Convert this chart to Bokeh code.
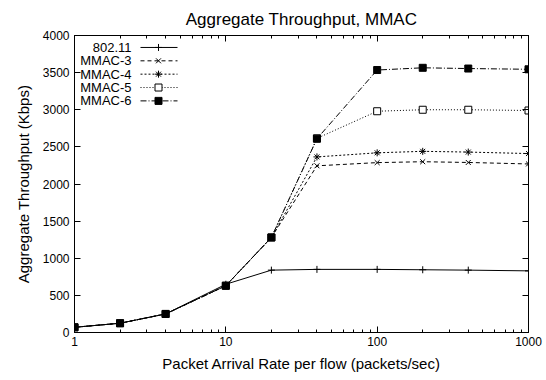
from bokeh.plotting import figure
from bokeh.models import (Range1d, LinearScale, LogAxis, LinearAxis, FixedTicker,
                          SingleIntervalTicker, ColumnDataSource, PrintfTickFormatter)
from bokeh.core.properties import value
from bokeh.embed import file_html
from bokeh.resources import INLINE

rate = [1, 2, 4, 10, 20, 40, 100, 200, 400, 1000]
thr_80211 = [70, 125, 250, 650, 840, 850, 850, 845, 840, 830]
thr_mmac3 = [70, 125, 250, 630, 1280, 2245, 2288, 2300, 2290, 2270]
thr_mmac4 = [70, 125, 250, 630, 1280, 2365, 2420, 2440, 2430, 2410]
thr_mmac5 = [70, 125, 250, 630, 1280, 2615, 2980, 3000, 3000, 2990]
thr_mmac6 = [70, 125, 250, 630, 1280, 2610, 3535, 3565, 3555, 3545]
names = ["802.11", "MMAC-3", "MMAC-4", "MMAC-5", "MMAC-6"]
series = [thr_80211, thr_mmac3, thr_mmac4, thr_mmac5, thr_mmac6]
x_ticks = [1, 10, 100, 1000]
x_minor = [m * d for d in (1, 10, 100) for m in range(2, 10)]

dashes = ["solid", "4 3", "2 2", "1 2", "6 2 1 2"]
markers = ["cross", "x", "asterisk", "square", "square"]
fills = ["black", "black", "black", "white", "black"]

FONT = "Liberation Sans"

p = figure(width=546, height=380, x_axis_type="log",
           x_range=Range1d(1, 1000), y_range=Range1d(0, 4000),
           output_backend="svg", toolbar_location=None,
           min_border_left=74, min_border_right=18, min_border_top=34, min_border_bottom=48,
           title="Aggregate Throughput, MMAC")
p.title.align = "center"
p.title.text_font = FONT
p.title.text_font_size = "17px"
p.title.text_font_style = "normal"
p.title.text_color = "black"
p.title.standoff = 14
p.grid.visible = False
p.outline_line_color = "black"
p.outline_line_width = 1
p.background_fill_color = "white"
p.border_fill_color = "white"

xa = p.xaxis[0]
xa.ticker = FixedTicker(ticks=x_ticks, minor_ticks=x_minor)
xa.formatter = PrintfTickFormatter(format="%d")
xa.axis_label = "Packet Arrival Rate per flow (packets/sec)"
ya = p.yaxis[0]
ya.ticker = SingleIntervalTicker(interval=500, num_minor_ticks=0)
ya.axis_label = "Aggregate Throughput (Kbps)"
for ax in (xa, ya):
    ax.major_tick_in = 6
    ax.major_tick_out = 0
    ax.minor_tick_in = 3
    ax.minor_tick_out = 0
    ax.major_label_text_font = FONT
    ax.major_label_text_font_size = "12px"
    ax.major_label_text_color = "black"
    ax.axis_label_text_font = FONT
    ax.axis_label_text_font_size = "15px"
    ax.axis_label_text_font_style = "normal"
    ax.axis_label_text_color = "black"
    ax.axis_line_color = "black"
    ax.major_tick_line_color = "black"
    ax.minor_tick_line_color = "black"
xa.major_label_standoff = 4
ya.major_label_standoff = 5
xa.axis_label_standoff = 6
ya.axis_label_standoff = 8

top = LogAxis(ticker=FixedTicker(ticks=x_ticks, minor_ticks=x_minor),
              major_label_text_font_size="1px", major_label_text_alpha=0,
              major_tick_in=6, major_tick_out=0,
              minor_tick_in=3, minor_tick_out=0, major_label_standoff=0)
right = LinearAxis(ticker=SingleIntervalTicker(interval=500, num_minor_ticks=0),
                   major_label_text_font_size="1px", major_label_text_alpha=0,
                   major_tick_in=6, major_tick_out=0,
                   minor_tick_in=0, minor_tick_out=0, major_label_standoff=0)
p.add_layout(top, "above")
p.add_layout(right, "right")

for name, ys, d, m, f in zip(names, series, dashes, markers, fills):
    src = ColumnDataSource(dict(x=rate, y=ys))
    p.line("x", "y", source=src, line_color="black", line_width=1, line_dash=d)
    p.scatter("x", "y", source=src, marker=m, size=7, line_color="black",
              fill_color=f, line_width=1)

# legend drawn in frame pixel coordinates (top-left inside)
p.extra_x_ranges = {"lg": Range1d(0, 454)}
p.extra_x_scales = {"lg": LinearScale()}
p.extra_y_ranges = {"lg": Range1d(298, 0)}
p.extra_y_scales = {"lg": LinearScale()}
for i, (name, d, m, f) in enumerate(zip(names, dashes, markers, fills)):
    yy = 12 + 13.4 * i
    p.text(x=[57], y=[yy], text=[name], x_range_name="lg", y_range_name="lg",
           text_align="right", text_baseline="middle", text_font=value(FONT),
           text_font_size="13px", text_color="black")
    p.line(x=[66, 103], y=[yy, yy], x_range_name="lg", y_range_name="lg",
           line_color="black", line_width=1, line_dash=d)
    p.scatter(x=[84], y=[yy], x_range_name="lg", y_range_name="lg", marker=m, size=7,
              line_color="black", fill_color=f, line_width=1)

open("out.html", "w").write(file_html(p, INLINE))
